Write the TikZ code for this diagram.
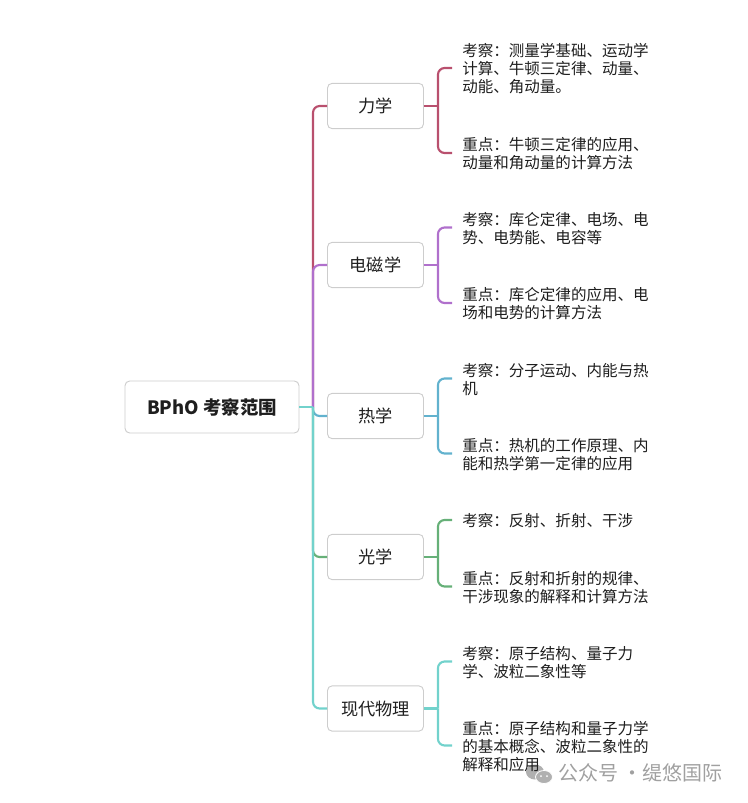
\documentclass[tikz,border=0pt]{standalone}
\usepackage{fontspec}
\setmainfont{Noto Sans CJK SC}
\definecolor{cred}{HTML}{B9506E}
\definecolor{cpurple}{HTML}{B070CC}
\definecolor{cblue}{HTML}{62B2CE}
\definecolor{cgreen}{HTML}{66B078}
\definecolor{cteal}{HTML}{72D2CC}
\definecolor{cborder}{HTML}{CDCDCD}
\definecolor{ctext}{HTML}{1E1E1E}
\definecolor{cmark}{HTML}{B0B0B0}
\definecolor{cmarktext}{HTML}{A0A0A0}
\newcommand{\lowered}[1]{\raisebox{-0.75pt}{#1}}
\tikzset{
  rootbox/.style={draw=cborder,line width=0.7pt,rounded corners=3.5pt,minimum width=130.5pt,minimum height=39pt,inner sep=0pt,font=\fontsize{13.8pt}{15pt}\selectfont\bfseries,text=ctext},
  topicbox/.style={draw=cborder,line width=0.7pt,rounded corners=3.5pt,minimum width=72pt,minimum height=34pt,inner sep=0pt,font=\fontsize{12.9pt}{15pt}\selectfont,text=ctext},
  leaf/.style={anchor=west,align=left,inner xsep=7.5pt,inner ysep=0pt,font=\fontsize{11.65pt}{13.5pt}\selectfont,text=ctext},
  straightlink/.style={line width=1.6pt},
  elbowlink/.style={line width=1.6pt,rounded corners=5pt},
  wmark/.style={text=cmarktext,font=\fontsize{15pt}{17pt}\selectfont}
}
\newcommand{\branchlinks}[4]{%
  \draw[straightlink,#4] (#1.east) -- ++(10.5pt,0) coordinate (#1j);
  \draw[elbowlink,#4] (#1j) |- ([yshift=0.75pt]#2.west);
  \draw[elbowlink,#4] (#1j) |- ([yshift=0.75pt]#3.west);
}
\begin{document}
\begin{tikzpicture}[x=0.75pt,y=-0.75pt]
\useasboundingbox (0,0) rectangle (747,803);
% watermark icon lies under the text
\fill[cmark] (535,772) ellipse [x radius=9,y radius=7.5];
\fill[cmark,draw=white,line width=0.6pt] (544,777) ellipse [x radius=8.5,y radius=6.5];
\fill[white] (541,776) circle (1) (547,776) circle (1);
\node[rootbox] (root) at (212,407) {\lowered{BPhO 考察范围}};
\node[topicbox] (m) at (375.5,106) {\lowered{力学}};
\node[topicbox] (e) at (375.5,265) {\lowered{电磁学}};
\node[topicbox] (h) at (375.5,416) {\lowered{热学}};
\node[topicbox] (o) at (375.5,557) {\lowered{光学}};
\node[topicbox] (q) at (375.5,708.5) {\lowered{现代物理}};
\coordinate (trunk) at (313,407);
\node[leaf] (m1) at (452,69) {考察：测量学基础、运动学\\计算、牛顿三定律、动量、\\动能、角动量。};
\node[leaf] (m2) at (452,154) {重点：牛顿三定律的应用、\\动量和角动量的计算方法};
\node[leaf] (e1) at (452,228.5) {考察：库仑定律、电场、电\\势、电势能、电容等};
\node[leaf] (e2) at (452,304) {重点：库仑定律的应用、电\\场和电势的计算方法};
\node[leaf] (h1) at (452,379.5) {考察：分子运动、内能与热\\机};
\node[leaf] (h2) at (452,454.5) {重点：热机的工作原理、内\\能和热学第一定律的应用};
\node[leaf] (o1) at (452,521) {考察：反射、折射、干涉};
\node[leaf] (o2) at (452,587.5) {重点：反射和折射的规律、\\干涉现象的解释和计算方法};
\node[leaf] (q1) at (452,662.5) {考察：原子结构、量子力\\学、波粒二象性等};
\node[leaf] (q2) at (452,746.5) {重点：原子结构和量子力学\\的基本概念、波粒二象性的\\解释和应用};
\draw[elbowlink,cred] (trunk) |- (m.west);
\draw[elbowlink,cpurple] (trunk) |- (e.west);
\draw[elbowlink,cblue] (trunk) |- (h.west);
\draw[elbowlink,cgreen] (trunk) |- (o.west);
\draw[elbowlink,cteal] (trunk) |- (q.west);
\draw[straightlink,cteal] (root.east) -- (trunk);
\branchlinks{m}{m1}{m2}{cred}
\branchlinks{e}{e1}{e2}{cpurple}
\branchlinks{h}{h1}{h2}{cblue}
\branchlinks{o}{o1}{o2}{cgreen}
\branchlinks{q}{q1}{q2}{cteal}
\node[wmark,anchor=west,inner sep=0pt] (wm) at (558,772.5) {公众号 · \hspace{-3.5pt}缇悠国际};
\end{tikzpicture}
\end{document}
